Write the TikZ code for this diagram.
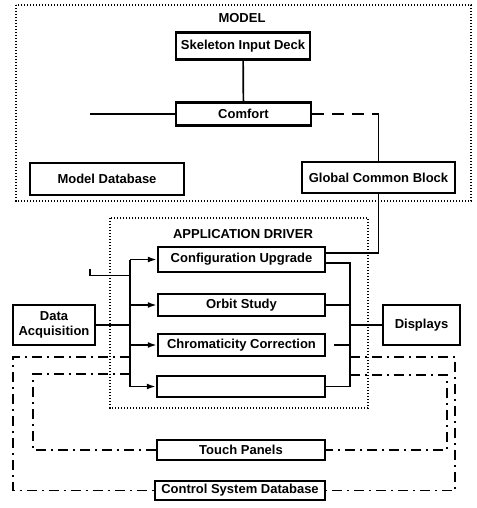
\documentclass[tikz,border=0pt]{standalone}
\usepackage{fontspec}
\setmainfont{Liberation Sans}
\usetikzlibrary{arrows.meta,calc}
\tikzset{
  box/.style={draw, line width=2.4pt, inner sep=0pt, font=\fontsize{13}{15}\selectfont\bfseries, align=center},
  lbl/.style={inner sep=0pt, font=\fontsize{13}{15}\selectfont\bfseries},
  conn/.style={line width=1.7pt},
  arr/.style={-{Latex[length=9pt,width=6pt]}},
  longdash/.style={dash pattern=on 12pt off 8pt},
  loopline/.style={line width=1.1pt, dash pattern=on 10pt off 5pt on 2pt off 5pt},
  dotbox/.style={line width=1.5pt, dash pattern=on 1.3pt off 1.7pt}
}
\begin{document}
\begin{tikzpicture}[x=1pt,y=-1pt]
\useasboundingbox (0,0) rectangle (476,508);
% dotted groups
\draw[dotbox] (16,5) rectangle (471,201);
\draw[dotbox] (110,218) rectangle (368,408);
\node[lbl] (mtitle) at (242,18) {MODEL};
\node[lbl] (atitle) at (243,234) {APPLICATION DRIVER};
% boxes
\node[box, minimum width=134pt, minimum height=27pt] (skel) at (243,46) {Skeleton Input Deck};
\node[box, minimum width=135pt, minimum height=23pt] (comfort) at (243.5,114) {Comfort};
\node[box, minimum width=154pt, minimum height=32pt] (mdb) at (107,179) {Model Database};
\node[box, minimum width=153pt, minimum height=31pt] (gcb) at (378.5,177.5) {Global Common Block};
\node[box, minimum width=167pt, minimum height=25pt] (config) at (241.5,259.5) {Configuration Upgrade};
\node[box, minimum width=167pt, minimum height=22pt] (orbit) at (241.5,305) {Orbit Study};
\node[box, minimum width=167pt, minimum height=22pt] (chrom) at (241.5,345) {Chromaticity Correction};
\node[box, minimum width=168pt, minimum height=21pt] (blank) at (241,386.5) {};
\node[box, minimum width=82pt, minimum height=40pt] (daq) at (54,325) {Data\\Acquisition};
\node[box, minimum width=77pt, minimum height=40pt] (disp) at (421.5,325) {Displays};
\node[box, minimum width=168pt, minimum height=20pt, line width=1.7pt] (touch) at (241,450) {Touch Panels};
\node[box, minimum width=170pt, minimum height=19pt, line width=1.7pt] (csd) at (240,490.5) {Control System Database};
% coordinates
\coordinate (busL) at (130,0);
\coordinate (busR) at (350,0);
\coordinate (cl) at (90,114);
\coordinate (in0) at (90,269);
\coordinate (in1) at (90,275.5);
\coordinate (ol) at (13,357);
\coordinate (orr) at (455,357);
\coordinate (il) at (33,374);
\coordinate (ir) at (447,375);
% model connectors
\draw[conn] (skel) -- (comfort);
\draw[conn] (comfort.west) -- (cl);
\draw[conn, longdash] (comfort.east) -- (gcb.north |- comfort.east);
\draw[conn] (gcb.north |- comfort.east) -- (gcb.north);
\draw[conn] (gcb.south) |- ([yshift=6.5pt]config.east);
% left bus
\draw[conn] (busL |- config.west) -- (busL |- blank.west);
\draw[conn, arr] (busL |- config.west) -- (config.west);
\draw[conn, arr] (busL |- orbit.west) -- (orbit.west);
\draw[conn, arr] (busL |- chrom.west) -- (chrom.west);
\draw[conn, arr] (busL |- blank.west) -- (blank.west);
\draw[conn] (in0) -- (in1) -- (busL |- in1);
\draw[conn] (daq.east) -- (busL |- daq.east);
% right bus
\draw[conn] ([yshift=-3.5pt]config.east) -| (busR |- blank.east);
\draw[conn] (orbit.east) -- (busR |- orbit.east);
\draw[conn] ([xshift=8pt]chrom.east) -- (busR |- chrom.east);
\draw[conn] (blank.east) -- (busR |- blank.east);
\draw[conn] (busR |- disp.west) -- (disp.west);
% dash-dot loops
\draw[loopline] (busL |- ol) -- (ol) |- (csd.west);
\draw[loopline] (busR |- orr) -- (orr) |- (csd.east);
\draw[loopline] (busL |- il) -- (il) |- (touch.west);
\draw[loopline] (busR |- ir) -- (ir) |- (touch.east);
\end{tikzpicture}
\end{document}
